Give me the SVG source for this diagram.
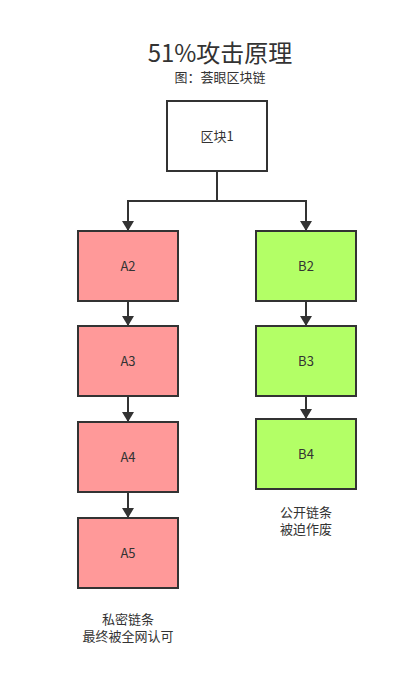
<svg xmlns="http://www.w3.org/2000/svg" width="418" height="679" viewBox="0 0 418 679">
<style>
text{font-family:"Noto Sans CJK SC","Noto Sans",sans-serif;fill:#333;text-anchor:middle}
.box{stroke:#333;stroke-width:2}
.w{fill:#fff}.r{fill:#ff9999}.g{fill:#b3ff66}
.lbl{font-size:13px}
.edge{fill:none;stroke:#333;stroke-width:2}
</style>
<defs><marker id="ah" viewBox="0 0 10 12" refX="10" refY="6" markerWidth="10" markerHeight="12" markerUnits="userSpaceOnUse" orient="auto"><path d="M0,0 L10,6 L0,12 Z" fill="#333"/></marker></defs>
<rect width="418" height="679" fill="#fff"/>
<text x="220" y="62" font-size="24">51%攻击原理</text>
<text x="220" y="82" font-size="13">图：荟眼区块链</text>
<g id="connectors">
<path class="edge" d="M217,171 V201 H128 V231" marker-end="url(#ah)"/>
<path class="edge" d="M217,201 H306 V231" marker-end="url(#ah)"/>
<path class="edge" d="M128,301 V326" marker-end="url(#ah)"/>
<path class="edge" d="M128,396 V422" marker-end="url(#ah)"/>
<path class="edge" d="M128,492 V518" marker-end="url(#ah)"/>
<path class="edge" d="M306,301 V326" marker-end="url(#ah)"/>
<path class="edge" d="M306,396 V419" marker-end="url(#ah)"/>
</g>
<g id="n1"><rect class="box w" x="167" y="101" width="100" height="70"/><text class="lbl" x="217" y="141">区块1</text></g>
<g id="A2"><rect class="box r" x="78" y="231" width="100" height="70"/><text class="lbl" x="128" y="271">A2</text></g>
<g id="A3"><rect class="box r" x="78" y="326" width="100" height="70"/><text class="lbl" x="128" y="366">A3</text></g>
<g id="A4"><rect class="box r" x="78" y="422" width="100" height="70"/><text class="lbl" x="128" y="462">A4</text></g>
<g id="A5"><rect class="box r" x="78" y="518" width="100" height="70"/><text class="lbl" x="128" y="558">A5</text></g>
<g id="B2"><rect class="box g" x="256" y="231" width="100" height="70"/><text class="lbl" x="306" y="271">B2</text></g>
<g id="B3"><rect class="box g" x="256" y="326" width="100" height="70"/><text class="lbl" x="306" y="366">B3</text></g>
<g id="B4"><rect class="box g" x="256" y="419" width="100" height="70"/><text class="lbl" x="306" y="459">B4</text></g>
<g id="note1"><text class="lbl" x="128" y="624">私密链条</text><text class="lbl" x="128" y="641">最终被全网认可</text></g>
<g id="note2"><text class="lbl" x="306" y="517">公开链条</text><text class="lbl" x="306" y="534">被迫作废</text></g>
</svg>
